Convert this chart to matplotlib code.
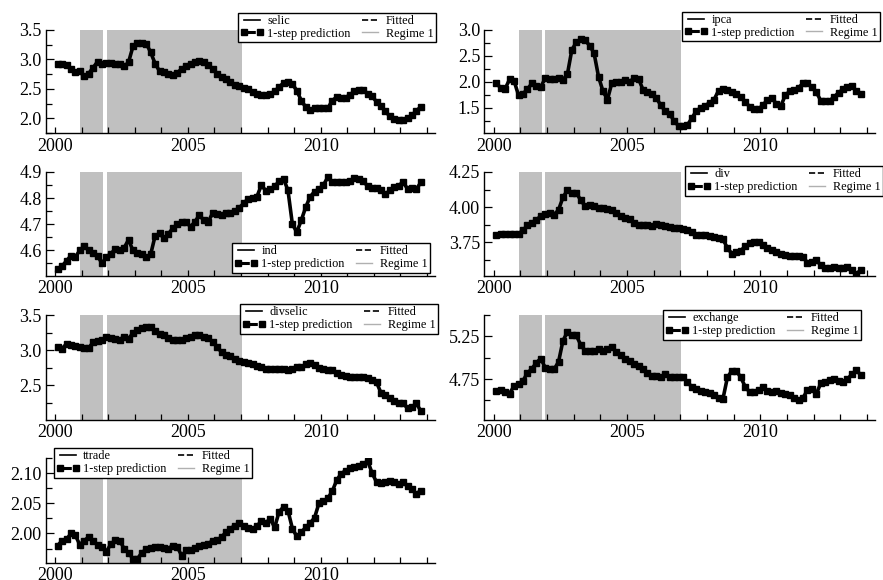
import numpy as np
import matplotlib
matplotlib.use('Agg')
import matplotlib.pyplot as plt
from matplotlib.lines import Line2D
from matplotlib.ticker import MultipleLocator, FormatStrFormatter

plt.rcParams['font.family'] = ['Liberation Serif', 'DejaVu Serif']

# bimonthly observations, 2000 to mid 2013
dates = 2000.1 + np.arange(83) / 6.0

# regime 1 periods (start, end)
regime_start = [2000.95, 2001.94]
regime_end = [2001.80, 2007.03]

selic = [2.93, 2.93, 2.91, 2.84, 2.79, 2.80,
         2.71, 2.76, 2.86, 2.96, 2.93, 2.94,
         2.94, 2.93, 2.92, 2.88, 2.95, 3.22,
         3.28, 3.28, 3.27, 3.12, 2.93, 2.80,
         2.78, 2.75, 2.73, 2.77, 2.84, 2.89,
         2.93, 2.96, 2.97, 2.96, 2.91, 2.84,
         2.76, 2.70, 2.66, 2.61, 2.57, 2.54,
         2.52, 2.49, 2.45, 2.41, 2.39, 2.40,
         2.41, 2.46, 2.53, 2.60, 2.61, 2.58,
         2.47, 2.30, 2.19, 2.14, 2.17, 2.17,
         2.17, 2.17, 2.30, 2.36, 2.35, 2.35,
         2.40, 2.46, 2.48, 2.48, 2.42, 2.37,
         2.28, 2.20, 2.12, 2.03, 1.98, 1.97,
         1.97, 2.00, 2.05, 2.13, 2.19]

ipca = [1.98, 1.88, 1.87, 2.05, 2.02, 1.74,
        1.77, 1.86, 1.97, 1.93, 1.90, 2.07,
        2.06, 2.05, 2.07, 2.04, 2.15, 2.62,
        2.76, 2.82, 2.80, 2.70, 2.55, 2.10,
        1.82, 1.66, 1.98, 2.00, 2.00, 2.04,
        2.00, 2.08, 2.06, 1.85, 1.81, 1.77,
        1.69, 1.55, 1.44, 1.38, 1.25, 1.15,
        1.15, 1.17, 1.30, 1.44, 1.50, 1.54,
        1.60, 1.66, 1.83, 1.86, 1.84, 1.81,
        1.76, 1.70, 1.62, 1.52, 1.47, 1.48,
        1.55, 1.66, 1.69, 1.58, 1.53, 1.74,
        1.82, 1.85, 1.89, 1.97, 1.97, 1.90,
        1.80, 1.64, 1.63, 1.64, 1.71, 1.79,
        1.86, 1.90, 1.93, 1.82, 1.77]

ind = [4.530, 4.540, 4.560, 4.580, 4.575, 4.600,
       4.615, 4.600, 4.590, 4.580, 4.550, 4.575,
       4.587, 4.605, 4.600, 4.610, 4.640, 4.600,
       4.590, 4.585, 4.575, 4.585, 4.655, 4.665,
       4.646, 4.663, 4.685, 4.700, 4.708, 4.710,
       4.690, 4.710, 4.735, 4.715, 4.710, 4.743,
       4.740, 4.737, 4.743, 4.745, 4.752, 4.763,
       4.780, 4.798, 4.802, 4.806, 4.850, 4.828,
       4.835, 4.845, 4.865, 4.874, 4.830, 4.700,
       4.670, 4.715, 4.765, 4.805, 4.825, 4.835,
       4.850, 4.880, 4.860, 4.860, 4.862, 4.860,
       4.865, 4.877, 4.874, 4.866, 4.845, 4.840,
       4.840, 4.830, 4.815, 4.830, 4.843, 4.848,
       4.862, 4.835, 4.840, 4.835, 4.860]

div = [3.800, 3.810, 3.810, 3.810, 3.810, 3.810,
       3.835, 3.870, 3.890, 3.910, 3.935, 3.950,
       3.960, 3.947, 3.980, 4.070, 4.120, 4.100,
       4.100, 4.050, 4.006, 4.015, 4.010, 3.994,
       3.994, 3.990, 3.978, 3.956, 3.940, 3.925,
       3.913, 3.890, 3.876, 3.876, 3.872, 3.868,
       3.882, 3.875, 3.866, 3.860, 3.855, 3.850,
       3.843, 3.835, 3.820, 3.805, 3.805, 3.802,
       3.795, 3.787, 3.778, 3.770, 3.710, 3.668,
       3.680, 3.690, 3.722, 3.742, 3.752, 3.755,
       3.728, 3.706, 3.692, 3.682, 3.670, 3.662,
       3.652, 3.650, 3.655, 3.645, 3.605, 3.608,
       3.625, 3.585, 3.570, 3.566, 3.575, 3.570,
       3.568, 3.575, 3.550, 3.522, 3.555]

divselic = [3.050, 3.020, 3.090, 3.075, 3.060, 3.045,
            3.030, 3.030, 3.110, 3.125, 3.140, 3.185,
            3.175, 3.160, 3.150, 3.190, 3.160, 3.245,
            3.290, 3.320, 3.335, 3.333, 3.270, 3.225,
            3.210, 3.170, 3.150, 3.143, 3.143, 3.170,
            3.190, 3.210, 3.210, 3.190, 3.170, 3.120,
            3.045, 2.970, 2.935, 2.912, 2.870, 2.840,
            2.832, 2.822, 2.795, 2.770, 2.755, 2.735,
            2.724, 2.730, 2.736, 2.730, 2.720, 2.730,
            2.752, 2.752, 2.800, 2.820, 2.786, 2.745,
            2.724, 2.714, 2.722, 2.670, 2.640, 2.625,
            2.620, 2.620, 2.619, 2.610, 2.600, 2.580,
            2.540, 2.390, 2.360, 2.310, 2.280, 2.250,
            2.240, 2.170, 2.190, 2.240, 2.130]

exchange = [4.615, 4.620, 4.600, 4.580, 4.670, 4.690,
            4.730, 4.820, 4.870, 4.940, 4.990, 4.885,
            4.865, 4.865, 4.950, 5.200, 5.300, 5.270,
            5.260, 5.150, 5.080, 5.077, 5.077, 5.096,
            5.080, 5.100, 5.120, 5.070, 5.030, 4.990,
            4.960, 4.930, 4.900, 4.870, 4.825, 4.790,
            4.785, 4.770, 4.805, 4.770, 4.775, 4.776,
            4.770, 4.710, 4.660, 4.630, 4.615, 4.600,
            4.590, 4.558, 4.530, 4.520, 4.770, 4.846,
            4.845, 4.770, 4.660, 4.596, 4.596, 4.620,
            4.654, 4.610, 4.600, 4.615, 4.585, 4.570,
            4.558, 4.530, 4.510, 4.530, 4.620, 4.630,
            4.577, 4.700, 4.720, 4.735, 4.745, 4.730,
            4.710, 4.745, 4.810, 4.850, 4.800]

ttrade = [1.980, 1.988, 1.990, 2.000, 1.997, 1.981,
          1.988, 1.994, 1.988, 1.981, 1.978, 1.970,
          1.982, 1.989, 1.988, 1.975, 1.968, 1.958,
          1.958, 1.968, 1.974, 1.976, 1.977, 1.977,
          1.976, 1.975, 1.980, 1.978, 1.963, 1.972,
          1.973, 1.976, 1.980, 1.981, 1.983, 1.988,
          1.989, 1.994, 2.002, 2.008, 2.013, 2.017,
          2.013, 2.009, 2.008, 2.012, 2.021, 2.018,
          2.024, 2.010, 2.036, 2.044, 2.038, 2.008,
          1.995, 2.002, 2.010, 2.017, 2.026, 2.050,
          2.053, 2.058, 2.070, 2.088, 2.099, 2.104,
          2.108, 2.110, 2.112, 2.115, 2.120, 2.100,
          2.085, 2.083, 2.086, 2.087, 2.085, 2.082,
          2.085, 2.078, 2.073, 2.066, 2.071]

names = ['selic', 'ipca', 'ind', 'div', 'divselic', 'exchange', 'ttrade']
series = [selic, ipca, ind, div, divselic, exchange, ttrade]
ylims = [(1.74, 3.5), (1.005, 3.0), (4.502, 4.9), (3.51, 4.25),
         (2.003, 3.5), (4.27, 5.5), (1.951, 2.125)]
major = [0.5, 0.5, 0.1, 0.25, 0.5, 0.5, 0.05]
major_off = [0, 0, 0, 0, 0, 0.25, 0]
minor = [0.25, 0.25, 0.05, 0.125, 0.25, 0.25, 0.025]
fmts = ['%.1f', '%.1f', '%.1f', '%.2f', '%.1f', '%.2f', '%.2f']
# legend upper-left corner, pixels from top-left
leg_pos = [(238, 12.7), (682, 11.7), (232, 243), (685, 166),
           (240, 304), (663, 310), (54, 448)]

W, H = 883, 580
fig = plt.figure(figsize=(W / 100, H / 100), dpi=100)

col_x = [45.7, 484.3]
col_r = [435, 875]
row_top = [30, 172, 315, 458]
row_bot = [133.5, 276, 420, 563]

gray = '#c0c0c0'

for i, (name, vals) in enumerate(zip(names, series)):
    r, c = i // 2, i % 2
    ax = fig.add_axes([col_x[c] / W, 1 - row_bot[r] / H,
                       (col_r[c] - col_x[c]) / W, (row_bot[r] - row_top[r]) / H])
    for s, e in zip(regime_start, regime_end):
        ax.axvspan(s, e, color=gray, lw=0, zorder=0)
    ax.plot(dates, vals, color='k', lw=2.6, zorder=2)
    ax.plot(dates, vals, color='k', lw=1.2, ls='--', zorder=2)
    ax.plot(dates, vals, color='k', lw=0, marker='s', ms=4.2, zorder=3)

    ax.set_xlim(1999.65, 2014.3)
    ax.set_ylim(*ylims[i])
    ax.xaxis.set_major_locator(MultipleLocator(5))
    ax.xaxis.set_minor_locator(MultipleLocator(1))
    ax.yaxis.set_major_locator(MultipleLocator(major[i], offset=major_off[i]))
    ax.yaxis.set_minor_locator(MultipleLocator(minor[i]))
    ax.yaxis.set_major_formatter(FormatStrFormatter(fmts[i]))
    ax.xaxis.set_major_formatter(FormatStrFormatter('%d'))
    for sp in ['top', 'right']:
        ax.spines[sp].set_visible(False)
    for sp in ['left', 'bottom']:
        ax.spines[sp].set_linewidth(1.0)
    ax.tick_params(axis='both', which='both', direction='in', width=0.9,
                   labelsize=13, pad=3)
    ax.tick_params(axis='y', which='major', length=6)
    ax.tick_params(axis='y', which='minor', length=4)
    ax.tick_params(axis='x', which='both', length=4)

    handles = [Line2D([], [], color='k', lw=1.2),
               Line2D([], [], color='k', lw=2.2, ls='--', marker='s', ms=3.8),
               Line2D([], [], color='k', lw=1.2, ls='--'),
               Line2D([], [], color='#b0b0b0', lw=1.0)]
    labels = [name, '1-step prediction', 'Fitted', 'Regime 1']
    lx, ly = leg_pos[i]
    leg = ax.legend(handles, labels, ncol=2, loc='upper left',
                    bbox_to_anchor=(lx / W, 1 - ly / H),
                    bbox_transform=fig.transFigure,
                    fontsize=8.8, frameon=True, fancybox=False,
                    borderpad=0.2, labelspacing=0.05, handlelength=1.9,
                    handletextpad=0.3, columnspacing=0.65, borderaxespad=0,
                    numpoints=2, framealpha=1)
    leg.get_frame().set_edgecolor('k')
    leg.get_frame().set_linewidth(1.0)
    leg.set_zorder(5)

fig.savefig('out.png', dpi=100)
